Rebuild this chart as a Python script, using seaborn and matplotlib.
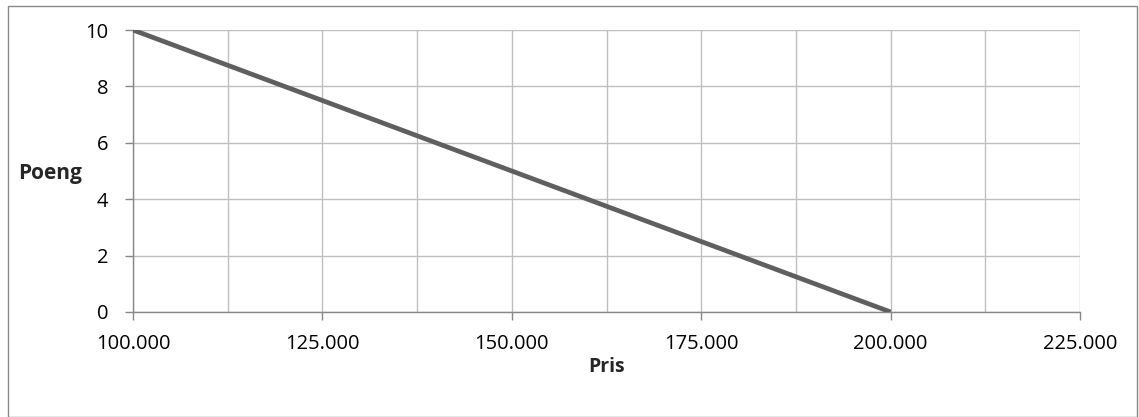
import matplotlib
matplotlib.use("Agg")
import matplotlib.pyplot as plt
from matplotlib.ticker import MultipleLocator, FuncFormatter
from matplotlib.patches import Rectangle
import seaborn as sns
import pandas as pd

# Price points and corresponding scores
pris = [100000, 200000]
poeng = [10, 0]

sns.set_theme(style="white")
plt.rcParams['font.family'] = ['Open Sans', 'DejaVu Sans']

fig = plt.figure(figsize=(11.39, 4.17), dpi=100)
ax = fig.add_axes([0.1168, 0.2518, 0.9482 - 0.1168, 0.928 - 0.2518])

df = pd.DataFrame({"Pris": pris, "Poeng": poeng})
sns.lineplot(data=df, x="Pris", y="Poeng", ax=ax, color="#5f5f5f", linewidth=3.4,
             solid_capstyle="butt", zorder=3)

ax.set_xlim(100000, 225000)
ax.set_ylim(0, 10)
ax.xaxis.set_major_locator(MultipleLocator(25000))
ax.xaxis.set_minor_locator(MultipleLocator(12500))
ax.yaxis.set_major_locator(MultipleLocator(2))
ax.xaxis.set_major_formatter(FuncFormatter(lambda v, p: f"{int(v):,}".replace(",", ".")))

ax.grid(which="both", axis="x", color="#bfbfbf", linewidth=1.0, zorder=0)
ax.grid(which="major", axis="y", color="#bfbfbf", linewidth=1.0, zorder=0)

for side in ("top", "right"):
    ax.spines[side].set_visible(False)
for side in ("left", "bottom"):
    ax.spines[side].set_color("#888888")
    ax.spines[side].set_linewidth(1.0)

ax.tick_params(axis="both", which="major", direction="out", length=6, width=1.0,
               color="#888888", labelsize=14.5, labelcolor="black")
ax.tick_params(axis="y", which="major", pad=12)
ax.tick_params(axis="x", which="minor", length=0)
ax.tick_params(axis="x", which="major", pad=10)
ax.tick_params(left=True, bottom=True)

ax.set_xlabel("Pris", fontsize=14, fontweight="bold", labelpad=2)
ax.set_ylabel("Poeng", fontsize=15, fontweight="bold", rotation=0, labelpad=0)
ax.yaxis.set_label_coords(-0.088, 0.49)
ax.yaxis.label.set_ha("center")
ax.yaxis.label.set_va("center")

# Chart-area border
fig.patches.append(Rectangle((8 / 1139, 0.0), (1137 - 8) / 1139, (411) / 417,
                             transform=fig.transFigure, fill=False,
                             edgecolor="#888888", linewidth=1.0))

fig.savefig("out.png", dpi=100)
